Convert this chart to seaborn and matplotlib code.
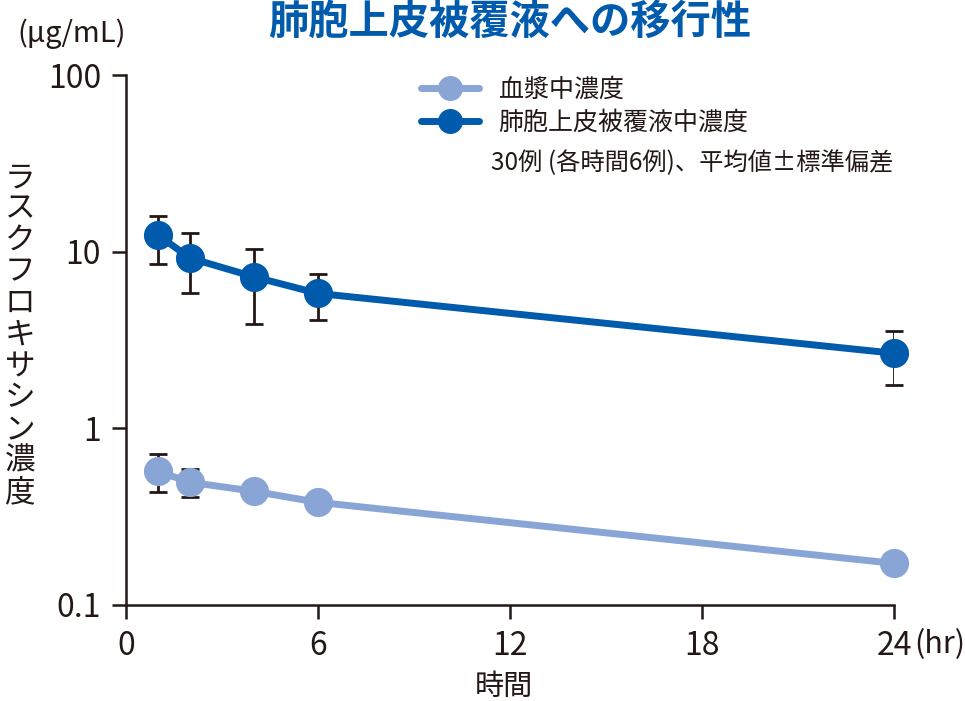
import numpy as np
import pandas as pd
import matplotlib
matplotlib.use("Agg")
import matplotlib.pyplot as plt
import seaborn as sns
from matplotlib.lines import Line2D

# ---- data ----
hours = [1, 2, 4, 6, 24]
plasma_mean = [0.57, 0.495, 0.44, 0.381, 0.172]
plasma_upper = [0.713, 0.586, 0.44, 0.381, 0.172]
plasma_lower = [0.434, 0.41, 0.44, 0.381, 0.172]
elf_mean = [12.4, 9.2, 7.2, 5.8, 2.66]
elf_upper = [16.0, 12.7, 10.3, 7.5, 3.54]
elf_lower = [8.5, 5.8, 3.9, 4.1, 1.77]
series_names = ["血漿中濃度", "肺胞上皮被覆液中濃度"]
x_ticks = [0, 6, 12, 18, 24]
y_ticks = [0.1, 1, 10, 100]
y_ticklabels = ["0.1", "1", "10", "100"]

title = "肺胞上皮被覆液への移行性"
ylabel = "ラスクフロキサシン濃度"
xlabel = "時間"
unit_y = "(μg/mL)"
unit_x = "(hr)"
note = "30例 (各時間6例)、平均値±標準偏差"

light = "#88A5D6"
dark = "#005BAC"
ink = "#231815"

sns.set_theme(style="white")
plt.rcParams["font.family"] = ["Noto Sans CJK JP", "DejaVu Sans"]

df = pd.DataFrame({
    "時間": hours * 2,
    "濃度": plasma_mean + elf_mean,
    "系列": [series_names[0]] * len(hours) + [series_names[1]] * len(hours),
})

fig = plt.figure(figsize=(9.65, 7.01), dpi=100)
ax = fig.add_axes([0.1306, 0.137, 0.7959, 0.756])

# error bars (behind markers)
for m, up, lo in [(plasma_mean, plasma_upper, plasma_lower), (elf_mean, elf_upper, elf_lower)]:
    m = np.array(m); up = np.array(up); lo = np.array(lo)
    ax.errorbar(hours, m, yerr=[m - lo, up - m], fmt="none", ecolor=ink,
                elinewidth=2, capsize=6.5, capthick=2, zorder=1)

sns.lineplot(data=df, x="時間", y="濃度", hue="系列", palette=[light, dark],
             marker="o", markersize=21, markeredgewidth=0, linewidth=5,
             ax=ax, legend=False, zorder=3)

ax.set_yscale("log")
ax.set_xlim(0, 24)
ax.set_ylim(0.1, 100)
ax.set_xticks(x_ticks)
ax.set_xticklabels([str(t) for t in x_ticks])
ax.set_yticks(y_ticks)
ax.set_yticklabels(y_ticklabels)
ax.minorticks_off()
ax.yaxis.set_minor_locator(matplotlib.ticker.NullLocator())
ax.tick_params(axis="both", direction="out", length=10, width=1.8, color=ink,
               labelsize=23, labelcolor=ink, pad=8, left=True, bottom=True)
for s in ["top", "right"]:
    ax.spines[s].set_visible(False)
for s in ["left", "bottom"]:
    ax.spines[s].set_color(ink)
    ax.spines[s].set_linewidth(1.8)
ax.set_xlabel("")
ax.set_ylabel("")
for c in ax.get_children():
    if isinstance(c, Line2D):
        c.set_clip_on(False)

# texts
fig.text(0.528, 0.968, title, ha="center", va="center", fontsize=29,
         fontweight="bold", color=dark)
fig.text(0.074, 0.952, unit_y, ha="center", va="center", fontsize=21, color=ink)
fig.text(0.021, 0.522, "\n".join(ylabel), ha="center", va="center",
         fontsize=22, color=ink, linespacing=1.02)
fig.text(0.947, 0.08, unit_x, ha="left", va="center", fontsize=22, color=ink)
fig.text(0.522, 0.02, xlabel, ha="center", va="center", fontsize=21, color=ink)

# legend
handles = [Line2D([0], [0], color=light, lw=5, marker="o", markersize=17),
           Line2D([0], [0], color=dark, lw=5, marker="o", markersize=17)]
leg = ax.legend(handles, series_names, loc="upper left",
                bbox_to_anchor=(0.355, 1.04), frameon=False, fontsize=18,
                handlelength=2.3, handletextpad=0.8, labelspacing=0.28)
for t in leg.get_texts():
    t.set_color(ink)
fig.text(0.509, 0.768, note, ha="left", va="center", fontsize=17.5, color=ink)

fig.savefig("out.png", dpi=100)
